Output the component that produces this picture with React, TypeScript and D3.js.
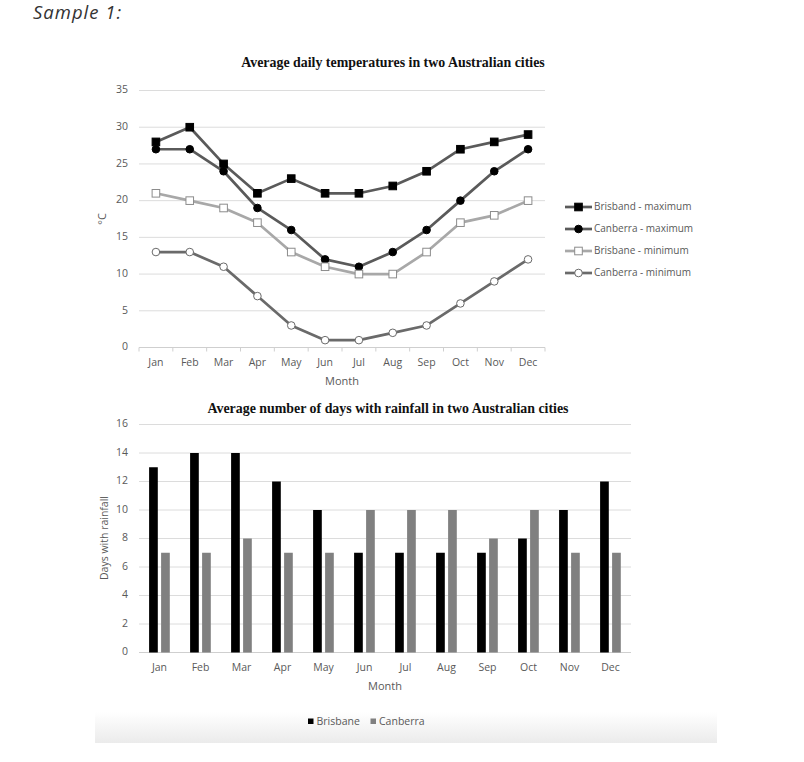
import * as d3 from "d3";

// 月
const MONTHS = ["Jan", "Feb", "Mar", "Apr", "May", "Jun", "Jul", "Aug", "Sep", "Oct", "Nov", "Dec"];

// 上段: 平均気温
const BRIS_MAX = [28, 30, 25, 21, 23, 21, 21, 22, 24, 27, 28, 29];
const CANB_MAX = [27, 27, 24, 19, 16, 12, 11, 13, 16, 20, 24, 27];
const BRIS_MIN = [21, 20, 19, 17, 13, 11, 10, 10, 13, 17, 18, 20];
const CANB_MIN = [13, 13, 11, 7, 3, 1, 1, 2, 3, 6, 9, 12];
const TEMP_LABELS = ["Brisband - maximum", "Canberra - maximum", "Brisbane - minimum", "Canberra - minimum"];
const TEMP_TICKS = [0, 5, 10, 15, 20, 25, 30, 35];

// 下段: 降雨日数
const RAIN_SERIES = ["Brisbane", "Canberra"];
const RAIN_BRIS = [13, 14, 14, 12, 10, 7, 7, 7, 7, 8, 10, 12];
const RAIN_CANB = [7, 7, 8, 7, 7, 10, 10, 10, 8, 10, 7, 7];
const RAIN_TICKS = [0, 2, 4, 6, 8, 10, 12, 14, 16];

const SANS = "'Open Sans', sans-serif";
const SERIF = "'Liberation Serif', 'Times New Roman', serif";
const AXIS_C = "#595959";
const GRID_C = "#dcdcdc";
const FS = 10.5;
const TITLE_FS = 13.9;

const tempSeries = [
  { name: TEMP_LABELS[0], values: BRIS_MAX, line: "#5a5a5a", shape: "square", fill: "#000", stroke: "#000" },
  { name: TEMP_LABELS[1], values: CANB_MAX, line: "#5a5a5a", shape: "circle", fill: "#000", stroke: "#000" },
  { name: TEMP_LABELS[2], values: BRIS_MIN, line: "#a8a8a8", shape: "square", fill: "#fff", stroke: "#8c8c8c" },
  { name: TEMP_LABELS[3], values: CANB_MIN, line: "#6a6a6a", shape: "circle", fill: "#fff", stroke: "#6a6a6a" },
];

function Marker({ shape, x, y, fill, stroke }: { shape: string; x: number; y: number; fill: string; stroke: string }) {
  if (shape === "square") {
    return <rect x={x - 3.8} y={y - 3.8} width={7.6} height={7.6} fill={fill} stroke={stroke} strokeWidth={1} />;
  }
  return <circle cx={x} cy={y} r={3.8} fill={fill} stroke={stroke} strokeWidth={1} />;
}

function TempChart() {
  const x = d3.scaleBand<string>().domain(MONTHS).range([139, 545]);
  const y = d3.scaleLinear().domain([0, 35]).range([347.5, 90.5]);
  const bw = x.bandwidth();
  const cx = (m: string) => (x(m) as number) + bw / 2;
  const line = d3
    .line<number>()
    .x((_, i) => cx(MONTHS[i]))
    .y((d) => y(d));
  const [x0, x1] = x.range();
  const edges = MONTHS.map((m) => x(m) as number).concat([x1]);

  return (
    <g>
      <text x={393} y={64} textAnchor="middle" dominantBaseline="middle" fontFamily={SERIF} fontWeight="bold" fontSize={TITLE_FS} fill="#111">
        Average daily temperatures in two Australian cities
      </text>
      {TEMP_TICKS.map((t) => (
        <g key={t}>
          {t > 0 && <line x1={x0} x2={x1} y1={y(t)} y2={y(t)} stroke={GRID_C} strokeWidth={1} />}
          <text x={128} y={y(t)} textAnchor="end" dominantBaseline="middle" fontFamily={SANS} fontSize={FS} fill={AXIS_C}>
            {t}
          </text>
        </g>
      ))}
      <line x1={x0} x2={x1} y1={y(0)} y2={y(0)} stroke="#cfcfcf" strokeWidth={1} />
      {edges.map((e, i) => (
        <line key={i} x1={e} x2={e} y1={y(0)} y2={y(0) + 4} stroke="#cfcfcf" strokeWidth={1} />
      ))}
      {MONTHS.map((m) => (
        <text key={m} x={cx(m)} y={363} textAnchor="middle" dominantBaseline="middle" fontFamily={SANS} fontSize={FS} fill={AXIS_C}>
          {m}
        </text>
      ))}
      <text x={(x0 + x1) / 2} y={382} textAnchor="middle" dominantBaseline="middle" fontFamily={SANS} fontSize={FS + 0.5} fill={AXIS_C}>
        Month
      </text>
      <text transform="translate(103,219) rotate(-90)" textAnchor="middle" dominantBaseline="middle" fontFamily={SANS} fontSize={FS + 0.5} fill={AXIS_C}>
        °C
      </text>
      {tempSeries.map((s) => (
        <g key={s.name}>
          <path d={line(s.values) as string} fill="none" stroke={s.line} strokeWidth={2.7} strokeLinejoin="round" />
          {s.values.map((v, i) => (
            <Marker key={i} shape={s.shape} x={cx(MONTHS[i])} y={y(v)} fill={s.fill} stroke={s.stroke} />
          ))}
        </g>
      ))}
      {tempSeries.map((s, i) => {
        const ly = 207 + i * 22;
        return (
          <g key={s.name}>
            <line x1={565} x2={592} y1={ly} y2={ly} stroke={s.line} strokeWidth={2.7} />
            <Marker shape={s.shape} x={578.5} y={ly} fill={s.fill} stroke={s.stroke} />
            <text x={594} y={ly} dominantBaseline="middle" fontFamily={SANS} fontSize={FS - 0.5} fill={AXIS_C}>
              {s.name}
            </text>
          </g>
        );
      })}
    </g>
  );
}

function RainChart() {
  const x = d3.scaleBand<string>().domain(MONTHS).range([139, 631]);
  const sub = d3.scaleBand<string>().domain(RAIN_SERIES).range([-10.4, 10.3]).paddingInner(0.275);
  const y = d3.scaleLinear().domain([0, 16]).range([652.5, 424.5]);
  const bw = x.bandwidth();
  const cx = (m: string) => (x(m) as number) + bw / 2;
  const [x0, x1] = x.range();
  const colors = d3.scaleOrdinal<string, string>().domain(RAIN_SERIES).range(["#000000", "#808080"]);
  const data = [RAIN_BRIS, RAIN_CANB];

  return (
    <g>
      <text x={388} y={410} textAnchor="middle" dominantBaseline="middle" fontFamily={SERIF} fontWeight="bold" fontSize={TITLE_FS} fill="#111">
        Average number of days with rainfall in two Australian cities
      </text>
      {RAIN_TICKS.map((t) => (
        <g key={t}>
          <line x1={x0} x2={x1} y1={y(t)} y2={y(t)} stroke={t === 0 ? "#cfcfcf" : GRID_C} strokeWidth={1} />
          <text x={128} y={y(t)} textAnchor="end" dominantBaseline="middle" fontFamily={SANS} fontSize={FS} fill={AXIS_C}>
            {t}
          </text>
        </g>
      ))}
      {RAIN_SERIES.map((s, si) =>
        data[si].map((v, i) => (
          <rect
            key={s + i}
            x={cx(MONTHS[i]) + (sub(s) as number)}
            y={y(v)}
            width={sub.bandwidth()}
            height={y(0) - y(v)}
            fill={colors(s)}
          />
        ))
      )}
      {MONTHS.map((m) => (
        <text key={m} x={cx(m)} y={668} textAnchor="middle" dominantBaseline="middle" fontFamily={SANS} fontSize={FS} fill={AXIS_C}>
          {m}
        </text>
      ))}
      <text x={(x0 + x1) / 2} y={687} textAnchor="middle" dominantBaseline="middle" fontFamily={SANS} fontSize={FS + 0.5} fill={AXIS_C}>
        Month
      </text>
      <text transform="translate(105,538) rotate(-90)" textAnchor="middle" dominantBaseline="middle" fontFamily={SANS} fontSize={FS} fill={AXIS_C}>
        Days with rainfall
      </text>
      {RAIN_SERIES.map((s, i) => {
        const lx = [308, 370.5][i];
        return (
          <g key={s}>
            <rect x={lx} y={718.5} width={5.5} height={5.5} fill={colors(s)} />
            <text x={lx + 8.5} y={722} dominantBaseline="middle" fontFamily={SANS} fontSize={FS} fill={AXIS_C}>
              {s}
            </text>
          </g>
        );
      })}
    </g>
  );
}

export default function App() {
  return (
    <svg width={804} height={762} viewBox="0 0 804 762" style={{ position: "absolute", left: 0, top: 0, background: "#fff" }}>
      <defs>
        <linearGradient id="band" x1="0" y1="0" x2="0" y2="1">
          <stop offset="0%" stopColor="#ffffff" />
          <stop offset="100%" stopColor="#ebebeb" />
        </linearGradient>
      </defs>
      <rect width={804} height={762} fill="#fff" />
      <text x={33} y={19} fontFamily="'Open Sans', sans-serif" fontStyle="italic" fontSize={18.5} fill="#333" letterSpacing={1}>
        Sample 1:
      </text>
      <rect x={95} y={712} width={622} height={31} fill="url(#band)" />
      <TempChart />
      <RainChart />
    </svg>
  );
}
